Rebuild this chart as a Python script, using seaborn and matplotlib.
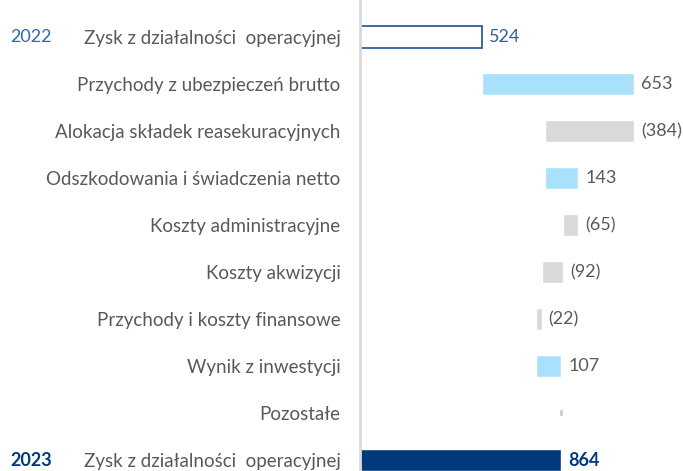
import matplotlib

matplotlib.use("Agg")
import matplotlib.pyplot as plt
import numpy as np
import pandas as pd
import seaborn as sns

# Data (PLN m)
categories = [
    "Zysk z działalności  operacyjnej",
    "Przychody z ubezpieczeń brutto",
    "Alokacja składek reasekuracyjnych",
    "Odszkodowania i świadczenia netto",
    "Koszty administracyjne",
    "Koszty akwizycji",
    "Przychody i koszty finansowe",
    "Wynik z inwestycji",
    "Pozostałe",
    "Zysk z działalności  operacyjnej",
]
start_value = 524
changes = [653, -384, 143, -65, -92, -22, 107, 1]
end_value = 864
years = ["2022", "2023"]

# waterfall positions
cum = start_value + np.concatenate([[0], np.cumsum(changes)])
lo = [0] + [min(a, b) for a, b in zip(cum[:-1], cum[1:])] + [0]
hi = [start_value] + [max(a, b) for a, b in zip(cum[:-1], cum[1:])] + [end_value]
values = [start_value] + changes + [end_value]

NAVY = "#003a7d"
SKY = "#a9e0fb"
GREY = "#d9d9d9"
TEXT = "#595959"
colors = ["white"] + [SKY if c > 0 else GREY for c in changes] + [NAVY]
colors[8] = GREY  # "Pozostałe" drawn grey

df = pd.DataFrame({"row": range(len(categories)), "hi": hi, "lo": lo})

sns.set_theme(style="white")
plt.rcParams["font.family"] = ["Lato", "DejaVu Sans"]

fig = plt.figure(figsize=(6.83, 4.71), dpi=100)
ax = fig.add_axes([0.527, 0.0, 0.473, 1.0])

sns.barplot(data=df, y="row", x="hi", hue="row", palette=colors, legend=False,
            width=0.48, orient="h", ax=ax, saturation=1)
sns.barplot(data=df, y="row", x="lo", color="white", width=0.5, orient="h",
            ax=ax, saturation=1)

# outline for the 2022 bar
first = ax.patches[0]
first.set_edgecolor("#2f5f9c")
first.set_linewidth(1.3)

# "Pozostałe" is almost zero: show it as a small grey tick on top
tiny = ax.patches[8]
tiny.set_zorder(3)
tiny.set_x(lo[8])
tiny.set_width(hi[8] - lo[8])
tiny.set_edgecolor("#c8c8c8")
tiny.set_linewidth(1.2)
tiny.set_y(8 - 0.05)
tiny.set_height(0.1)

ax.set_yticks(range(len(categories)), labels=categories)
ax.set_xlim(0, 1386)
ax.set_ylim(9.234, -0.787)
ax.set_xlabel("")
ax.set_ylabel("")
ax.set_xticks([])
for s in ["top", "right", "bottom"]:
    ax.spines[s].set_visible(False)
ax.spines["left"].set_color("#d9d9d9")
ax.spines["left"].set_linewidth(2)
ax.tick_params(axis="y", length=0, pad=14, labelsize=13.5, labelcolor=TEXT)

# value labels
for i, v in enumerate(values):
    if i == 8:
        continue
    txt = f"{v}" if v >= 0 else f"({-v})"
    color, weight = TEXT, "normal"
    if i == 0:
        color = "#2f5f9c"
    if i == len(values) - 1:
        color, weight = NAVY, "bold"
    ax.annotate(txt, (hi[i], i), xytext=(5, 0), textcoords="offset points",
                va="center", ha="left", fontsize=13, color=color, fontweight=weight)

# year labels
fig.text(10 / 683, 1 - 37 / 471, years[0], fontsize=13, color="#2f6aaa",
         va="center", ha="left")
fig.text(10 / 683, 1 - 460 / 471, years[1], fontsize=13, color=NAVY,
         fontweight="bold", va="center", ha="left")

fig.savefig("out.png", dpi=100)
